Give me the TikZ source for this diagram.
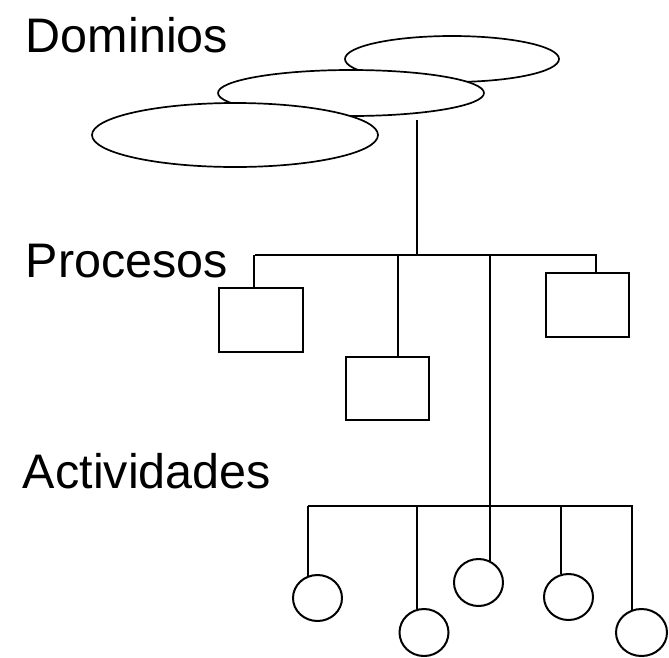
\documentclass[tikz,border=0pt]{standalone}
\usepackage{fontspec}
\setmainfont{Liberation Sans}
\usetikzlibrary{shapes.geometric}
\begin{document}
\begin{tikzpicture}[x=1pt,y=-1pt,
  every path/.style={line width=1.9pt},
  lbl/.style={anchor=base west,inner sep=0pt,font=\fontsize{48.5}{58}\selectfont},
  dom/.style={ellipse,draw,fill=white,inner sep=0pt,line width=1.7pt},
  proc/.style={rectangle,draw,fill=white,inner sep=0pt,line width=2pt},
  act/.style={ellipse,draw,fill=white,inner sep=0pt,line width=2pt,minimum width=49pt},
  link/.style={draw,line width=2pt}]
\useasboundingbox (0,0) rectangle (669,657);

% level labels
\node[lbl] (tdom) at (25,52) {Dominios};
\node[lbl] (tproc) at (25,277) {Procesos};
\node[lbl] (tact) at (22,488) {Actividades};

% domains: stacked ellipses, back to front
\node[dom,minimum width=214pt,minimum height=46pt] (d3) at (452,59) {};
\node[dom,minimum width=266pt,minimum height=46pt] (d2) at (351,93) {};
\node[dom,minimum width=286pt,minimum height=64pt] (d1) at (235,135) {};

% processes
\node[proc,minimum width=84pt,minimum height=64pt] (b1) at (261,320) {};
\node[proc,minimum width=83pt,minimum height=63pt] (b2) at (387.5,388.5) {};
\node[proc,minimum width=83pt,minimum height=64pt] (b3) at (587.5,305) {};

% activities
\node[act,minimum height=46pt] (c1) at (317.5,598) {};
\node[act,minimum height=47pt] (c2) at (424,632.5) {};
\node[act,minimum height=47pt] (c3) at (478.5,582.5) {};
\node[act,minimum height=46pt] (c4) at (568.5,597) {};
\node[act,minimum width=51pt,minimum height=47pt] (c5) at (641.5,632.5) {};

% bus lines
\coordinate (dtop) at (417,120);
\coordinate (pl) at (255,255);
\coordinate (pr) at (597,255);
\coordinate (al) at (308,506);
\coordinate (ar) at (633,506);

\path[link] (pl) -- (pr);
\path[link] (dtop) -- (dtop |- pl);

% process drops
\path[link] ([xshift=36pt]b1.north west) -- ([xshift=36pt]b1.north west |- pl);
\path[link] ([xshift=53pt]b2.north west) -- ([xshift=53pt]b2.north west |- pl);
\path[link] ([xshift=51pt]b3.north west) -- ([xshift=51pt]b3.north west |- pl);

% trunk to activities
\path[link] (c3.63) -- (c3.63 |- pl);
\path[link] (al) -- (ar);

% activity drops
\path[link] (c1.114) -- (c1.114 |- al);
\path[link] (c2.107) -- (c2.107 |- al);
\path[link] (c4.109) -- (c4.109 |- al);
\path[link] (c5.113) -- (c5.113 |- al);
\end{tikzpicture}
\end{document}
